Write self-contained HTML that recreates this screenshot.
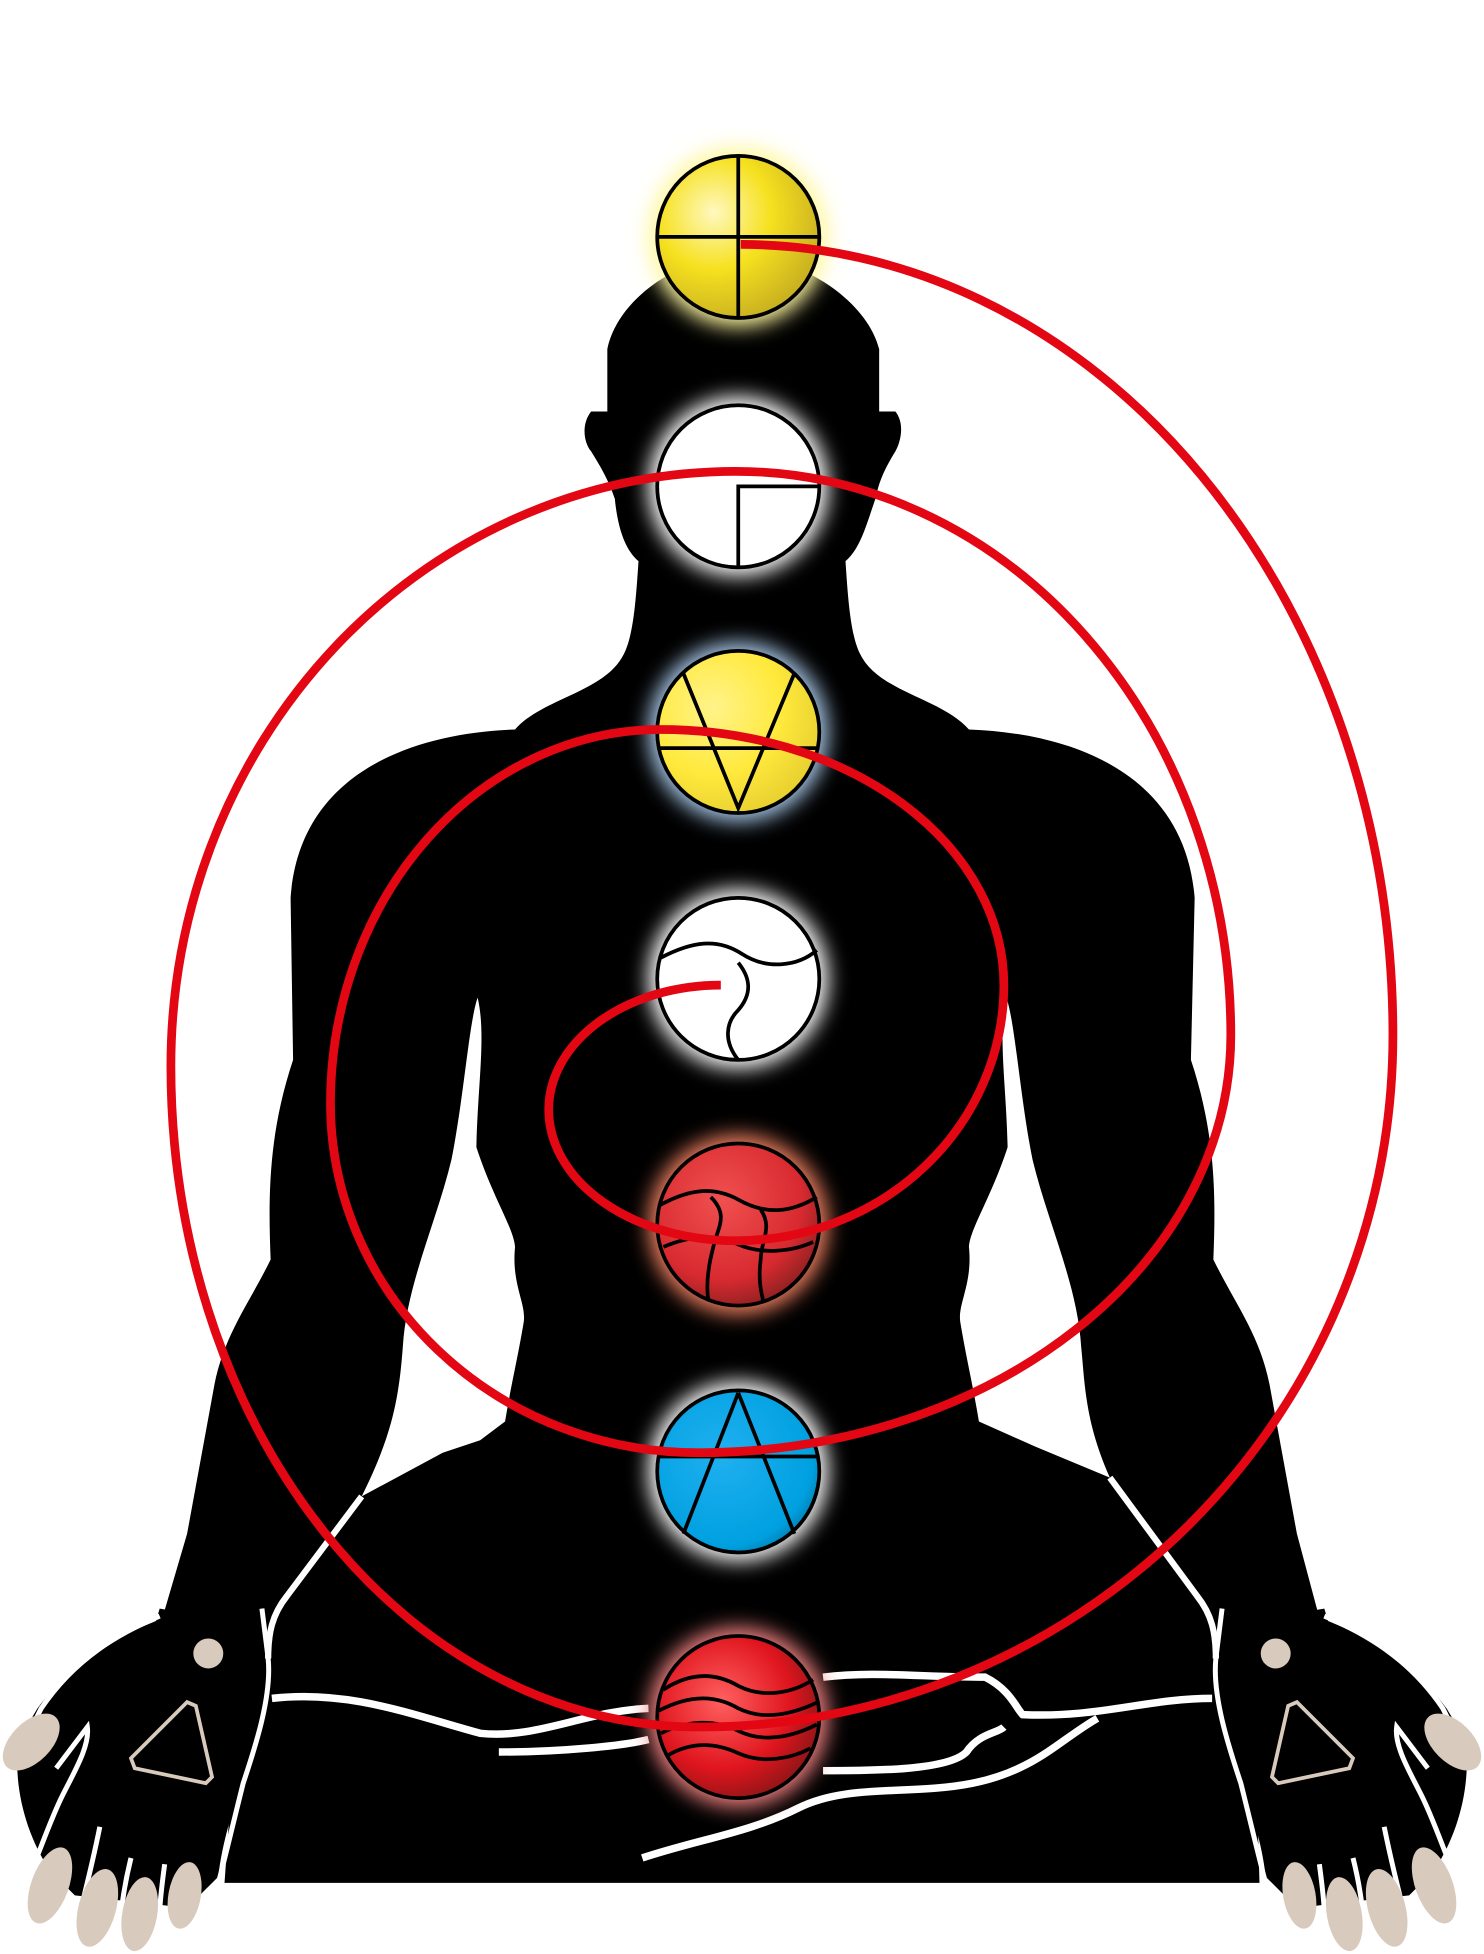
<!DOCTYPE html>
<html><head><style>html,body{margin:0;padding:0;background:#fff}svg{display:block}</style></head>
<body>
<svg width="1484" height="1954" viewBox="0 0 1190 1567" xmlns="http://www.w3.org/2000/svg">
<defs>
<filter id="b" x="-50%" y="-50%" width="200%" height="200%"><feGaussianBlur stdDeviation="8"/></filter>
<radialGradient id="gy" cx="0.35" cy="0.35" r="0.7"><stop offset="0" stop-color="#fff8c0"/><stop offset="0.5" stop-color="#f6e11f"/><stop offset="1" stop-color="#c8b020"/></radialGradient>
<radialGradient id="gy2" cx="0.35" cy="0.35" r="0.7"><stop offset="0" stop-color="#fff38a"/><stop offset="0.6" stop-color="#ffe93c"/><stop offset="1" stop-color="#e8d030"/></radialGradient>
<radialGradient id="gr" cx="0.4" cy="0.35" r="0.7"><stop offset="0" stop-color="#f05050"/><stop offset="0.7" stop-color="#d82a30"/><stop offset="1" stop-color="#8a2020"/></radialGradient>
<radialGradient id="gr2" cx="0.4" cy="0.4" r="0.7"><stop offset="0" stop-color="#ff6060"/><stop offset="0.6" stop-color="#e0151e"/><stop offset="1" stop-color="#7a1515"/></radialGradient>
<radialGradient id="gb" cx="0.4" cy="0.4" r="0.7"><stop offset="0" stop-color="#20b0f0"/><stop offset="0.8" stop-color="#00a0e0"/><stop offset="1" stop-color="#0070a0"/></radialGradient>
</defs>
<g fill="#000">
<path d="M487,330 L487,280 C495,240 545,205 592,205 C640,205 695,240 705,280 L705,330 L718,330 C726,340 722,355 718,362 C710,375 705,385 702,400 C695,420 690,440 678,450 C680,480 682,510 690,525 C705,555 755,560 777,585 C860,588 950,620 958,720 L955,850 C975,910 975,960 973,1010 C990,1045 1010,1070 1018,1110 L1040,1230 L1060,1305 L1020,1300 L1000,1360 L1008,1440 L1010,1510 L180,1510 L185,1440 L190,1360 L170,1300 L128,1305 L150,1230 L172,1110 C180,1070 200,1045 217,1010 C215,960 215,910 235,850 L233,720 C240,620 330,588 413,585 C435,560 485,555 500,525 C508,510 510,480 512,450 C500,440 495,420 493,400 C488,385 482,375 474,362 C468,355 466,340 474,330 Z"/>
</g>
<path d="M383,800 C390,830 383,870 382,920 C395,960 412,985 413,1000 C410,1030 422,1045 420,1060 C415,1090 410,1110 405,1140 L385,1155 L355,1165 L290,1200 C315,1150 320,1120 323,1080 C326,1030 350,980 362,930 C372,880 376,820 383,800Z" fill="#fff"/>
<path d="M807,800 C800,830 807,870 808,920 C795,960 778,985 777,1000 C780,1030 768,1045 770,1060 C775,1090 780,1110 785,1140 L830,1160 L890,1185 C870,1140 870,1110 867,1080 C864,1030 840,980 828,930 C818,880 814,820 807,800Z" fill="#fff"/>
<path d="M290,1200 L230,1280 C218,1295 215,1310 215,1330" fill="none" stroke="#fff" stroke-width="5"/>
<path d="M890,1185 L960,1280 C972,1295 975,1310 975,1330" fill="none" stroke="#fff" stroke-width="5"/>
<g fill="none" stroke="#fff" stroke-width="6">
<path d="M218,1362 C280,1355 330,1375 385,1390 C430,1395 470,1372 520,1370"/>
<path d="M660,1345 C700,1340 740,1345 790,1345 C810,1355 815,1370 820,1375 C880,1378 920,1362 972,1362"/>
<path d="M400,1405 C450,1405 500,1400 520,1395"/>
<path d="M660,1420 C700,1420 760,1420 775,1405 C785,1390 800,1390 805,1385"/>
<path d="M515,1490 C560,1475 600,1470 640,1450 C680,1430 730,1440 780,1430 C830,1420 850,1395 880,1378"/>
</g>
<g id="hand">
<path d="M128,1290 L125,1300 C100,1310 60,1330 30,1370 L15,1395 C10,1430 20,1470 40,1500 L60,1520 L150,1530 L175,1505 C180,1460 200,1420 205,1380 L210,1340 L190,1300 Z" fill="#000"/>
<path d="M128,1296 C95,1310 60,1330 33,1370 L22,1392 M45,1418 L70,1385 C72,1400 60,1420 50,1440 C40,1460 30,1490 25,1500 M80,1465 C75,1490 70,1510 65,1530 M105,1490 C100,1510 97,1530 97,1540 M132,1495 C130,1510 128,1525 128,1535 M210,1290 L215,1330 C218,1360 205,1400 195,1430 C185,1470 178,1500 175,1510" fill="none" stroke="#fff" stroke-width="4"/>
<ellipse cx="25" cy="1397" rx="28" ry="16" transform="rotate(-45 25 1397)" fill="#d8cbbd"/>
<ellipse cx="40" cy="1512" rx="15" ry="32" transform="rotate(20 40 1512)" fill="#d8cbbd"/>
<ellipse cx="78" cy="1530" rx="15" ry="32" transform="rotate(15 78 1530)" fill="#d8cbbd"/>
<ellipse cx="112" cy="1535" rx="14" ry="30" transform="rotate(10 112 1535)" fill="#d8cbbd"/>
<ellipse cx="148" cy="1520" rx="13" ry="27" transform="rotate(10 148 1520)" fill="#d8cbbd"/>
<ellipse cx="167" cy="1326" rx="12" ry="12" fill="#d8cbbd"/>
<path d="M150,1365 L105,1410 L108,1418 L165,1430 L170,1425 L157,1368 Z" fill="none" stroke="#d8cbbd" stroke-width="3"/>
</g>
<use href="#hand" transform="translate(1190,0) scale(-1,1)"/>
<g filter="url(#b)">
<circle cx="592" cy="190" r="72" fill="#fff7a0"/>
<circle cx="592" cy="390" r="72" fill="#fff"/>
<circle cx="592" cy="587" r="72" fill="#a8c8e8"/>
<circle cx="592" cy="785" r="72" fill="#fff"/>
<circle cx="592" cy="982" r="72" fill="#f08060"/>
<circle cx="592" cy="1180" r="72" fill="#ffffff"/>
<circle cx="592" cy="1377" r="72" fill="#f08080"/>
</g>
<g stroke="#000" stroke-width="3" fill="none">
<circle cx="592" cy="190" r="65" fill="url(#gy)"/>
<path d="M592,125 V255 M527,190 H657"/>
<circle cx="592" cy="390" r="65" fill="#fff"/>
<path d="M592,455 V390 H657"/>
<circle cx="592" cy="587" r="65" fill="url(#gy2)"/>
<path d="M548,540 L592,648 L637,540 M527,600 H657"/>
<circle cx="592" cy="785" r="65" fill="#fff"/>
<path d="M530,768 C555,755 575,752 595,765 C615,778 640,775 655,762 M592,850 C580,835 582,820 592,810 C605,795 600,782 592,772"/>
<circle cx="592" cy="982" r="65" fill="url(#gr)"/>
<path d="M528,967 C550,955 570,950 592,962 C615,975 635,972 655,960 M570,960 C585,975 575,985 572,1000 C568,1015 566,1030 568,1043 M610,970 C620,985 610,995 610,1010 C608,1025 610,1035 612,1043 M532,1000 C555,990 575,990 592,998 C610,1006 635,1004 652,996"/>
<circle cx="592" cy="1180" r="65" fill="url(#gb)"/>
<path d="M592,1117 L548,1230 M592,1117 L637,1230 M527,1168 H657"/>
<circle cx="592" cy="1377" r="65" fill="url(#gr2)"/>
<path d="M532,1355 C555,1340 575,1342 592,1352 C612,1362 635,1358 652,1347 M528,1372 C555,1358 575,1360 592,1370 C612,1380 635,1375 656,1365 M530,1390 C555,1378 575,1380 592,1388 C612,1398 635,1393 655,1383 M535,1408 C555,1396 575,1398 592,1406 C612,1415 635,1410 650,1402"/>
</g>
<path d="M594,196 A523,634 0 0 1 1117,830 A557,555 0 0 1 560,1385 A423,530 0 0 1 137,855 A453,477 0 0 1 590,378 A397,452 0 0 1 987,830 A427,335 0 0 1 560,1165 A295,280 0 0 1 265,885 A265,300 0 0 1 530,585 A275,205 0 0 1 805,790 A215,205 0 0 1 590,995 A150,105 0 0 1 440,890 A138,100 0 0 1 578,790" fill="none" stroke="#e30613" stroke-width="7"/>
</svg>
</body></html>
